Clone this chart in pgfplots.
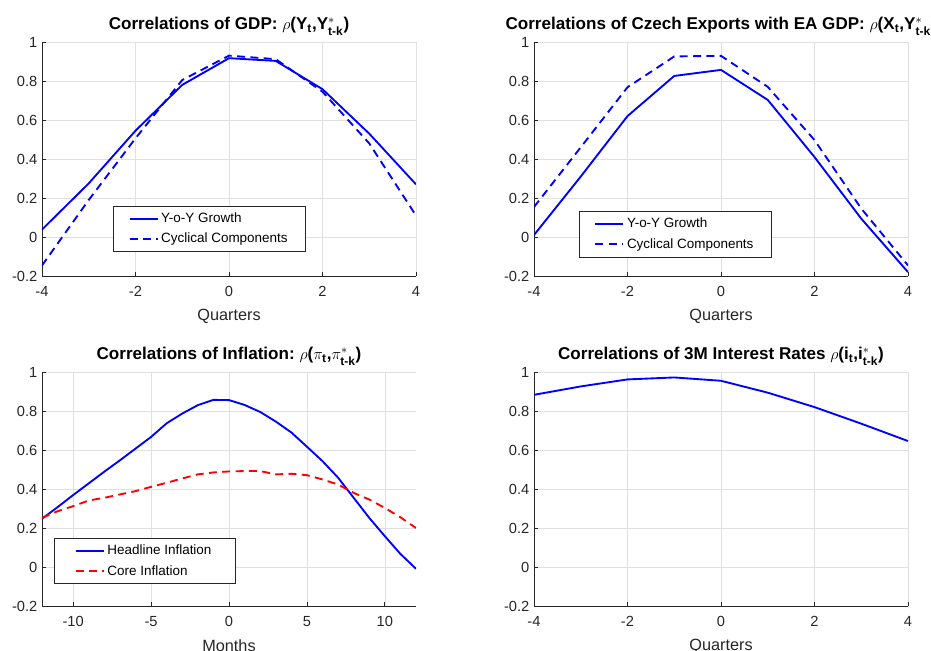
\documentclass[border=0pt]{standalone}
\usepackage{amsmath}
\usepackage{fontspec}
\setmainfont{Liberation Sans}
\usepackage{pgfplots}
\pgfplotsset{compat=1.18}
\definecolor{axgray}{gray}{0.15}
\definecolor{gridgray}{gray}{0.88}
\pgfplotsset{
  matlab/.style={
    scale only axis, width=280.5pt, height=175.5pt,
    axis x line*=bottom, axis y line*=left,
    axis line style={axgray, line width=0.6pt},
    tick align=inside, major tick length=3pt,
    tick style={axgray, line width=0.6pt},
    grid=major, grid style={gridgray, line width=0.5pt},
    ymin=-0.2, ymax=1, ytick={-0.2,0,0.2,0.4,0.6,0.8,1},
    /pgf/number format/assume math mode=true,
    ticklabel style={font=\fontsize{11}{12}\selectfont, text=axgray},
    xticklabel style={yshift=-4pt},
    title style={font=\bfseries\fontsize{12.8}{14}\selectfont, at={(0.5,1)}, anchor=south, yshift=-4.5pt},
    xlabel style={font=\fontsize{12.2}{13}\selectfont, text=axgray, yshift=-3pt},
    legend cell align=left,
    legend style={draw=axgray, fill=white, anchor=south west,
      font=\fontsize{10.1}{12}\selectfont, inner xsep=11.5pt, inner ysep=3pt,
      /tikz/row sep=2.5pt},
    legend image code/.code={\draw[#1] (0pt,0pt) -- (21pt,0pt);},
  },
  sline/.style={line width=1.4pt, solid},
  dline/.style={line width=1.4pt, dash pattern=on 6pt off 4pt},
}
\begin{document}
\begin{tikzpicture}
% GDP
\begin{axis}[matlab, at={(31.5pt,280.5pt)}, anchor=south west,
  xmin=-4, xmax=4, xtick={-4,-2,0,2,4}, xlabel={Quarters},
  title={Correlations of GDP:\ $\rho$(Y$_{\text{t}}$,Y$^{*}_{\text{t-k}}$)},
  legend style={at={(0.19,0.103)}}]
\addplot[sline, blue] coordinates {(-4,0.038)(-3,0.275)(-2,0.545)(-1,0.78)(0,0.917)(1,0.903)(2,0.758)(3,0.53)(4,0.27)};
\addplot[dline, blue] coordinates {(-4,-0.146)(-3,0.19)(-2,0.506)(-1,0.805)(0,0.93)(1,0.912)(2,0.745)(3,0.48)(4,0.11)};
\legend{Y-o-Y Growth, Cyclical Components}
\end{axis}
% Exports
\begin{axis}[matlab, at={(400.5pt,280.5pt)}, anchor=south west,
  xmin=-4, xmax=4, xtick={-4,-2,0,2,4}, xlabel={Quarters},
  title={Correlations of Czech Exports with EA GDP:\ $\rho$(X$_{\text{t}}$,Y$^{*}_{\text{t-k}}$)},
  legend style={at={(0.12,0.081)}}]
\addplot[sline, blue] coordinates {(-4,0.01)(-3,0.31)(-2,0.62)(-1,0.826)(0,0.857)(1,0.703)(2,0.41)(3,0.094)(4,-0.18)};
\addplot[dline, blue] coordinates {(-4,0.154)(-3,0.46)(-2,0.768)(-1,0.926)(0,0.929)(1,0.77)(2,0.497)(3,0.146)(4,-0.146)};
\legend{Y-o-Y Growth, Cyclical Components}
\end{axis}
% Inflation
\begin{axis}[matlab, at={(31.5pt,33pt)}, anchor=south west,
  xmin=-12, xmax=12, xtick={-10,-5,0,5,10}, xlabel={Months},
  title={Correlations of Inflation:\ $\rho$($\pi_{\text{t}}$,$\pi^{*}_{\text{t-k}}$)},
  legend style={at={(0.032,0.094)}, inner xsep=15.5pt}]
\addplot[sline, blue] coordinates {(-12,0.247)(-11,0.307)(-10,0.369)(-9,0.429)(-8,0.489)(-7,0.547)(-6,0.607)(-5,0.667)(-4,0.737)(-3,0.787)(-2,0.83)(-1,0.857)(0,0.856)(1,0.831)(2,0.795)(3,0.746)(4,0.69)(5,0.617)(6,0.543)(7,0.458)(8,0.355)(9,0.252)(10,0.158)(11,0.067)(12,-0.009)};
\addplot[dline, red] coordinates {(-12,0.252)(-11,0.286)(-10,0.312)(-9,0.341)(-8,0.355)(-7,0.372)(-6,0.389)(-5,0.411)(-4,0.432)(-3,0.454)(-2,0.475)(-1,0.485)(0,0.49)(1,0.492)(2,0.492)(3,0.475)(4,0.478)(5,0.471)(6,0.449)(7,0.423)(8,0.38)(9,0.346)(10,0.303)(11,0.255)(12,0.2)};
\legend{Headline Inflation, Core Inflation}
\end{axis}
% Interest rates
\begin{axis}[matlab, at={(400.5pt,33pt)}, anchor=south west,
  xmin=-4, xmax=4, xtick={-4,-2,0,2,4}, xlabel={Quarters},
  title={Correlations of 3M Interest Rates\ $\rho$(i$_{\text{t}}$,i$^{*}_{\text{t-k}}$)}]
\addplot[sline, blue] coordinates {(-4,0.883)(-3,0.926)(-2,0.962)(-1,0.972)(0,0.955)(1,0.894)(2,0.82)(3,0.735)(4,0.646)};
\end{axis}
\pgfresetboundingbox
\useasboundingbox (0pt,0pt) rectangle (698.25pt,487.5pt);
\end{tikzpicture}
\end{document}
